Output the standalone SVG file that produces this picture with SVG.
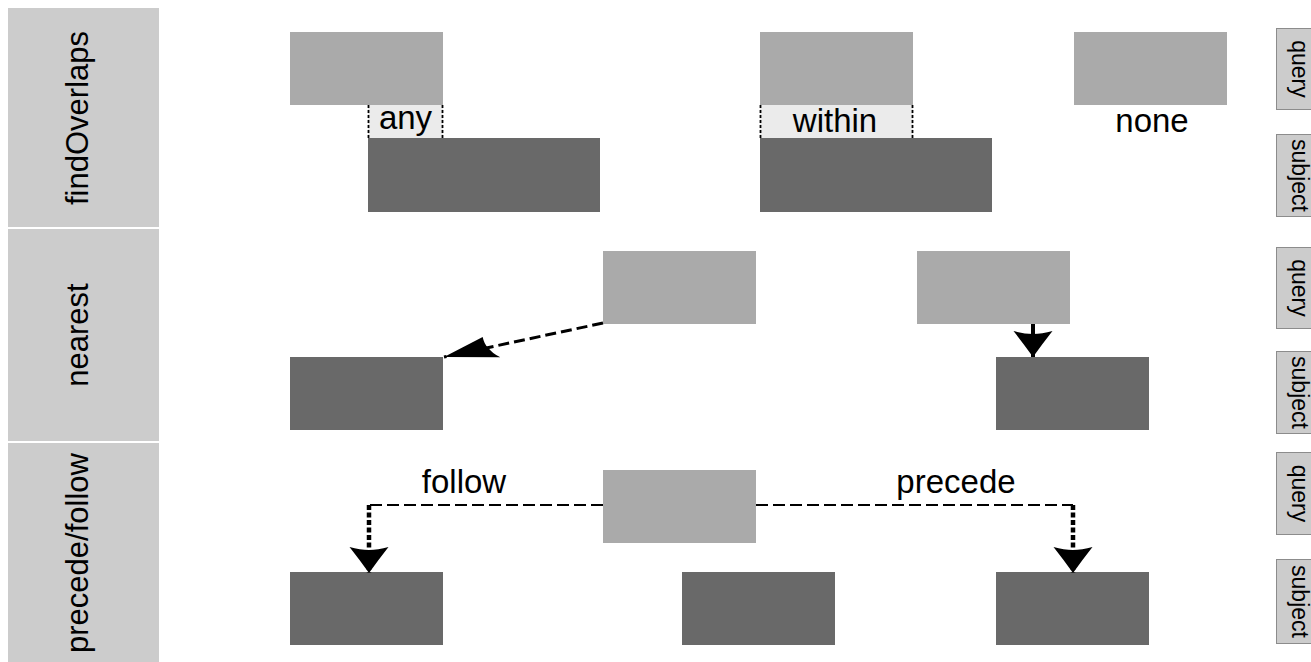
<svg xmlns="http://www.w3.org/2000/svg" width="1311" height="662" viewBox="0 0 1311 662">
<style>
.strip{fill:#cccccc}
.q{fill:#aaaaaa}
.s{fill:#696969}
.ov{fill:#ebebeb}
.edge{stroke:#000;stroke-width:1.8;stroke-dasharray:3 2;fill:none}
.lbl{font-family:"Liberation Sans",Arial,sans-serif;font-size:33px;fill:#000;text-anchor:middle}
.stxt{font-family:"Liberation Sans",Arial,sans-serif;font-size:31px;fill:#000;text-anchor:middle}
.rtxt{font-family:"Liberation Sans",Arial,sans-serif;font-size:23px;fill:#000;text-anchor:middle}
.rbox{fill:#cccccc;stroke:#8c8c8c;stroke-width:1}
.dash{stroke:#000;stroke-width:2.2;stroke-dasharray:12 5;fill:none}
.dashd{stroke:#000;stroke-width:3;stroke-dasharray:11 5;fill:none}
.thick{stroke:#000;stroke-width:4.5;stroke-dasharray:5 2.5;fill:none}
.solid{stroke:#000;stroke-width:4;fill:none}
</style>
<defs>
<marker id="ah" markerUnits="userSpaceOnUse" viewBox="-28 -21 30 42" refX="0" refY="0" markerWidth="30" markerHeight="42" orient="auto">
<path d="M0,0 Q-14,-10 -26,-19.5 Q-23,-9 -23,0 Q-23,9 -26,19.5 Q-14,10 0,0 Z" fill="#000"/>
</marker>
<marker id="ahs" markerUnits="userSpaceOnUse" viewBox="-58 -15 60 30" refX="0" refY="0" markerWidth="60" markerHeight="30" orient="auto">
<path d="M0,0 L-42,11.5 Q-42,4 -45,0 Q-48,-7 -55,-12 Z" fill="#000"/>
</marker>
</defs>
<rect width="1311" height="662" fill="#ffffff"/>
<g id="strip-findOverlaps">
<rect class="strip" x="8" y="8" width="151" height="219"/>
<text class="stxt" transform="translate(88,118) rotate(-90)">findOverlaps</text>
</g>
<g id="strip-nearest">
<rect class="strip" x="8" y="229" width="151" height="212"/>
<text class="stxt" transform="translate(88,335) rotate(-90)">nearest</text>
</g>
<g id="strip-precede-follow">
<rect class="strip" x="8" y="443" width="151" height="230"/>
<text class="stxt" transform="translate(88,553) rotate(-90)">precede/follow</text>
</g>
<g id="fo-any">
<rect class="q" x="290" y="32" width="153" height="73"/>
<rect class="ov" x="368" y="105" width="75" height="33"/>
<line class="edge" x1="368.5" y1="105" x2="368.5" y2="138"/>
<line class="edge" x1="442.5" y1="105" x2="442.5" y2="138"/>
<text class="lbl" x="405.5" y="129">any</text>
<rect class="s" x="368" y="138" width="232" height="74"/>
</g>
<g id="fo-within">
<rect class="q" x="760" y="32" width="153" height="73"/>
<rect class="ov" x="760" y="105" width="153" height="33"/>
<line class="edge" x1="760.5" y1="105" x2="760.5" y2="138"/>
<line class="edge" x1="912.5" y1="105" x2="912.5" y2="138"/>
<text class="lbl" x="835" y="132">within</text>
<rect class="s" x="760" y="138" width="232" height="74"/>
</g>
<g id="fo-none">
<rect class="q" x="1074" y="32" width="153" height="73"/>
<text class="lbl" x="1152" y="132">none</text>
</g>
<g id="nearest-1">
<rect class="q" x="603" y="251" width="153" height="73"/>
<rect class="s" x="290" y="357" width="153" height="73"/>
</g>
<g id="nearest-2">
<rect class="q" x="917" y="251" width="153" height="73"/>
<rect class="s" x="996" y="357" width="153" height="73"/>
</g>
<g id="pf">
<rect class="q" x="603" y="470" width="153" height="73"/>
<rect class="s" x="290" y="572" width="153" height="73"/>
<rect class="s" x="682" y="572" width="153" height="73"/>
<rect class="s" x="996" y="572" width="153" height="73"/>
<text class="lbl" x="464" y="493">follow</text>
<text class="lbl" x="956" y="493">precede</text>
</g>
<g id="connectors">
<line class="dashd" x1="603" y1="323" x2="444" y2="357" marker-end="url(#ahs)"/>
<line class="solid" x1="1033" y1="324" x2="1033" y2="357" marker-end="url(#ah)"/>
<line class="dash" x1="603" y1="505" x2="369" y2="505"/>
<line class="thick" x1="369" y1="505" x2="369" y2="573" marker-end="url(#ah)"/>
<line class="dash" x1="756" y1="505" x2="1073" y2="505"/>
<line class="thick" x1="1073" y1="505" x2="1073" y2="573" marker-end="url(#ah)"/>
</g>
<g id="row-labels">
<rect class="rbox" x="1276.5" y="28.5" width="50" height="81"/>
<text class="rtxt" transform="translate(1292,69) rotate(90)">query</text>
<rect class="rbox" x="1276.5" y="134.5" width="50" height="82"/>
<text class="rtxt" transform="translate(1292,175.5) rotate(90)">subject</text>
<rect class="rbox" x="1276.5" y="247.5" width="50" height="81"/>
<text class="rtxt" transform="translate(1292,288) rotate(90)">query</text>
<rect class="rbox" x="1276.5" y="351.5" width="50" height="82"/>
<text class="rtxt" transform="translate(1292,392.5) rotate(90)">subject</text>
<rect class="rbox" x="1276.5" y="452.5" width="50" height="82"/>
<text class="rtxt" transform="translate(1292,493.5) rotate(90)">query</text>
<rect class="rbox" x="1276.5" y="559.5" width="50" height="84"/>
<text class="rtxt" transform="translate(1292,601.5) rotate(90)">subject</text>
</g>
</svg>
